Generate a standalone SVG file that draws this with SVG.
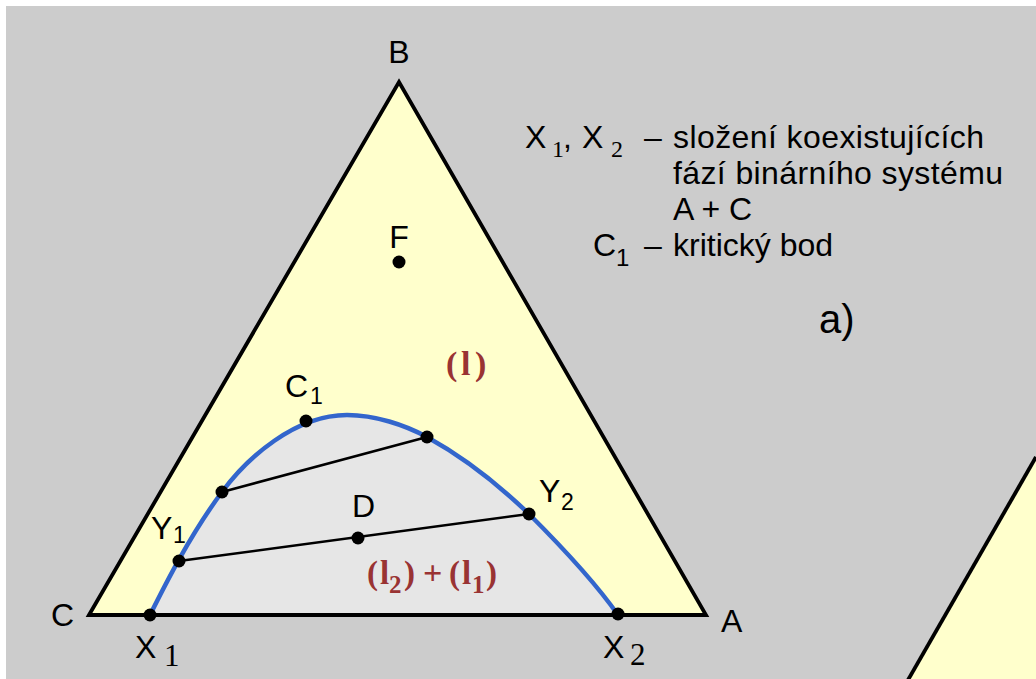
<svg xmlns="http://www.w3.org/2000/svg" width="1036" height="679" viewBox="0 0 1036 679">
<style>
.lab{font-family:"Liberation Sans",Arial,sans-serif;font-size:32px;fill:#000}
.sub{font-family:"Liberation Sans",Arial,sans-serif;font-size:23px;fill:#000}
.ssub{font-family:"Liberation Serif","Times New Roman",serif;fill:#000}
.red{font-family:"Liberation Serif","Times New Roman",serif;font-weight:bold;fill:#993333}
.edge{fill:none;stroke:#000;stroke-width:3.8;stroke-linejoin:miter}
.tie{fill:none;stroke:#000;stroke-width:2.5}
.dot{fill:#000}
</style>
<rect x="0" y="0" width="1036" height="679" fill="#ffffff"/>
<rect x="6" y="6" width="1030" height="673" fill="#cccccc"/>
<g id="triangle-b">
<polygon points="908,680 1036,457 1036,680" fill="#ffffcc"/>
<line x1="908" y1="680" x2="1036" y2="457" class="edge"/>
</g>
<g id="triangle">
<polygon points="89,615 399,82 706,615" fill="#ffffcc"/>
<path id="two-phase" d="M150,615 C165,585 190,535 222,492 C247,458 295,415 347,415 C375,415 405,425 427,437 C465,458 500,486 529,514 C560,545 595,582 618,615 Z" fill="#e6e6e6"/>
<polygon points="89,615 399,82 706,615" class="edge"/>
</g>
<g id="connectors">
<line x1="222" y1="492" x2="427" y2="437" class="tie"/>
<line x1="179" y1="561" x2="529" y2="514" class="tie"/>
</g>
<g id="binodal">
<path d="M150,615 C165,585 190,535 222,492 C247,458 295,415 347,415 C375,415 405,425 427,437 C465,458 500,486 529,514 C560,545 595,582 618,615" fill="none" stroke="#3366cc" stroke-width="4.5"/>
</g>
<g id="points">
<circle id="X1" cx="150" cy="615" r="6.5" class="dot"/>
<circle id="Y1" cx="179" cy="561" r="6.5" class="dot"/>
<circle id="P1" cx="222" cy="492" r="6.5" class="dot"/>
<circle id="C1" cx="306" cy="421" r="6.5" class="dot"/>
<circle id="P2" cx="427" cy="437" r="6.5" class="dot"/>
<circle id="D" cx="358" cy="538" r="6.5" class="dot"/>
<circle id="Y2" cx="529" cy="514" r="6.5" class="dot"/>
<circle id="X2" cx="618" cy="614" r="6.5" class="dot"/>
<circle id="F" cx="399" cy="262" r="6.5" class="dot"/>
</g>
<g id="labels">
<text class="lab" x="399" y="63" text-anchor="middle">B</text>
<text class="lab" x="399" y="248" text-anchor="middle">F</text>
<text class="lab" x="51" y="626">C</text>
<text class="lab" x="721" y="632">A</text>
<text class="lab" x="352" y="517">D</text>
<text class="lab" x="135" y="658">X</text><text class="ssub" x="164" y="666" style="font-size:31px">1</text>
<text class="lab" x="603" y="658">X</text><text class="ssub" x="630" y="665" style="font-size:31px">2</text>
<text class="lab" x="285" y="397">C</text><text class="sub" x="310" y="404">1</text>
<text class="lab" x="151" y="539">Y</text><text class="sub" x="173" y="543">1</text>
<text class="lab" x="539" y="502">Y</text><text class="sub" x="561" y="510">2</text>
<text class="red" y="375" style="font-size:34px"><tspan x="446">(</tspan><tspan x="461">l</tspan><tspan x="475">)</tspan></text>
<text class="red" y="584" style="font-size:33px"><tspan x="367">(</tspan><tspan x="380">l</tspan><tspan x="389" y="593" style="font-size:25px">2</tspan><tspan x="404" y="584">)</tspan><tspan x="423" y="584" style="font-size:34px">+</tspan><tspan x="449" y="584">(</tspan><tspan x="462">l</tspan><tspan x="472" y="593" style="font-size:25px">1</tspan><tspan x="486" y="584">)</tspan></text>
</g>
<g id="legend">
<text class="lab" x="525" y="148">X</text><text class="ssub" x="552" y="157" style="font-size:24px">1</text><text class="lab" x="563" y="148">,</text>
<text class="lab" x="582" y="148">X</text><text class="ssub" x="611" y="157" style="font-size:24px">2</text>
<text class="lab" x="644" y="148">–</text>
<text class="lab" x="673" y="148" textLength="311">složení koexistujících</text>
<text class="lab" x="673" y="184" textLength="330">fází binárního systému</text>
<text class="lab" x="673" y="220">A + C</text>
<text class="lab" x="593" y="256">C</text><text class="sub" x="616" y="266" style="font-size:24px">1</text>
<text class="lab" x="644" y="256">–</text>
<text class="lab" x="673" y="256">kritický bod</text>
<text class="lab" x="819" y="333" style="font-size:40px">a)</text>
</g>
</svg>
